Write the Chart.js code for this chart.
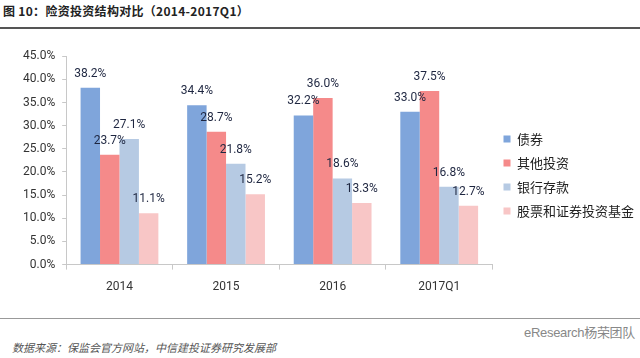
<!DOCTYPE html>
<html>
<head>
<meta charset="utf-8">
<script src="https://cdn.jsdelivr.net/npm/chart.js@4.4.0/dist/chart.umd.min.js"></script>
<style>
  html, body { margin: 0; padding: 0; background: #ffffff; }
  body { width: 640px; height: 358px; position: relative; overflow: hidden; font-family: "Noto Sans CJK SC", sans-serif; }
  #title { position: absolute; left: 3px; top: 2px; font-size: 12px; font-weight: bold; color: #222; letter-spacing: 0.3px; white-space: nowrap; }
  #topline { position: absolute; left: 0; top: 27px; width: 640px; height: 2px; background: #555; }
  #bottomline { position: absolute; left: 0; top: 318px; width: 640px; height: 1px; background: #999; }
  #source { position: absolute; left: 12px; top: 339px; font-size: 11px; font-style: italic; color: #555; white-space: nowrap; }
  #mark { position: absolute; right: 5px; top: 322px; font-size: 13px; color: #888; white-space: nowrap; letter-spacing: -0.3px; font-family: "Liberation Sans", "Noto Sans CJK SC", sans-serif; }
  #wrap { position: absolute; left: 0; top: 42px; width: 640px; height: 272px; }
</style>
</head>
<body>
<div id="title">图 10：险资投资结构对比（2014-2017Q1）</div>
<div id="topline"></div>
<div id="wrap"><canvas id="c"></canvas></div>
<div id="bottomline"></div>
<div id="mark">eResearch杨荣团队</div>
<div id="source">数据来源：保监会官方网站，中信建投证券研究发展部</div>
<script>
const categories = ["2014", "2015", "2016", "2017Q1"];
const seriesNames = ["债券", "其他投资", "银行存款", "股票和证券投资基金"];
const bonds = [38.2, 34.4, 32.2, 33.0];
const otherInvest = [23.7, 28.7, 36.0, 37.5];
const bankDeposits = [27.1, 21.8, 18.6, 16.8];
const stocksFunds = [11.1, 15.2, 13.3, 12.7];
const yTicks = [0, 5, 10, 15, 20, 25, 30, 35, 40, 45];
const colors = ["#7fa5db", "#f58a8a", "#b6cae3", "#f8c6c6"];

const numFont = "Roboto, 'Liberation Sans', sans-serif";

const labelPlugin = {
  id: 'barLabels',
  afterDatasetsDraw(chart) {
    const ctx = chart.ctx;
    ctx.save();
    ctx.font = "12px " + numFont;
    ctx.fillStyle = "#1e2640";
    ctx.textAlign = "center";
    ctx.textBaseline = "middle";
    chart.data.datasets.forEach((ds, i) => {
      const meta = chart.getDatasetMeta(i);
      meta.data.forEach((bar, j) => {
        ctx.fillText(ds.data[j].toFixed(1) + "%", bar.x, bar.y - 14);
      });
    });
    ctx.restore();
  }
};

const seriesData = [bonds, otherInvest, bankDeposits, stocksFunds];

new Chart(document.getElementById('c'), {
  type: 'bar',
  data: {
    labels: categories,
    datasets: seriesNames.map((n, i) => ({
      label: n,
      data: seriesData[i],
      backgroundColor: colors[i],
      borderWidth: 0,
      categoryPercentage: 0.73,
      barPercentage: 1.0
    }))
  },
  options: {
    responsive: true,
    maintainAspectRatio: false,
    animation: false,
    layout: { padding: { top: 14, left: 16, right: -4, bottom: 10 } },
    plugins: {
      tooltip: { enabled: false },
      legend: {
        position: 'right',
        align: 'start',
        title: { display: true, text: ' ', padding: { top: 0, bottom: 50 }, font: { size: 13 } },
        labels: {
          boxWidth: 7,
          boxHeight: 7,
          padding: 11,
          color: '#222',
          font: { size: 13, family: "'Noto Sans CJK SC', sans-serif" }
        }
      }
    },
    scales: {
      x: {
        grid: { display: true, drawOnChartArea: false, drawTicks: true, tickLength: 5, color: '#c8c8c8', offset: true },
        border: { display: true, color: '#c8c8c8' },
        ticks: { color: '#333', font: { size: 12, family: numFont }, padding: 10 }
      },
      y: {
        min: 0,
        max: 45,
        afterBuildTicks(axis) { axis.ticks = yTicks.map(v => ({ value: v })); },
        grid: { display: true, drawOnChartArea: false, drawTicks: true, tickLength: 4, color: '#c8c8c8' },
        border: { display: true, color: '#c8c8c8' },
        ticks: { color: '#333', font: { size: 12, family: numFont }, padding: 7, callback: v => Number(v).toFixed(1) + '%' }
      }
    }
  },
  plugins: [labelPlugin]
});
</script>
</body>
</html>
